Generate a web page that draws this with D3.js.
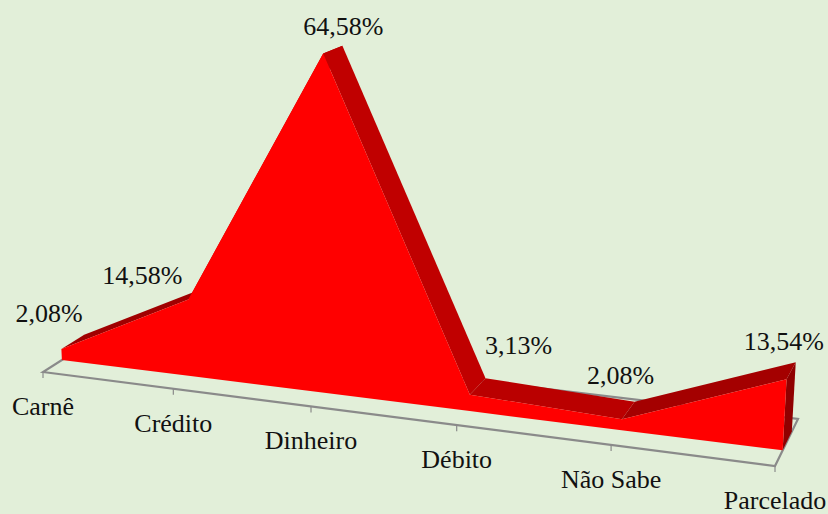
<!DOCTYPE html>
<html>
<head>
<meta charset="utf-8">
<style>
  html, body { margin: 0; padding: 0; background: #E2EFD9; }
  svg { display: block; }
  text { font-family: "Liberation Serif", serif; font-size: 26px; fill: #111; }
</style>
<script src="https://d3js.org/d3.v7.min.js"></script>
</head>
<body>
<div id="chart"></div>
<script>
// chart values
var categories = ["Carnê", "Crédito", "Dinheiro", "Débito", "Não Sabe", "Parcelado"];
var values = [2.08, 14.58, 64.58, 3.13, 2.08, 13.54];
var valueLabels = ["2,08%", "14,58%", "64,58%", "3,13%", "2,08%", "13,54%"];

// label placement, relative to the projected point
var valueNudge = [[-35, -13], [-67, -2], [1, -11], [33, -24], [-14, -18], [-12, -12]];

var svgWidth = 828;
var svgHeight = 514;

var svg = d3.select("#chart")
  .append("svg")
  .attr("width", svgWidth)
  .attr("height", svgHeight);

// scales: position along the floor and height above it
var xScale = d3.scalePoint().domain(categories).range([0, 1]);
var yScale = d3.scaleLinear().domain([0, 70]).range([0, 368]);

// floor corners on screen: front left, front right, back right, back left
var floor = [[43, 372], [775, 466], [798, 419], [100, 335.7]];
var frontDepth = 0.32;
var backDepth = 0.72;

// square to quad homography for the floor
var dx1 = floor[1][0] - floor[2][0], dx2 = floor[3][0] - floor[2][0];
var dy1 = floor[1][1] - floor[2][1], dy2 = floor[3][1] - floor[2][1];
var sx = floor[0][0] - floor[1][0] + floor[2][0] - floor[3][0];
var sy = floor[0][1] - floor[1][1] + floor[2][1] - floor[3][1];
var den = dx1 * dy2 - dx2 * dy1;
var g = (sx * dy2 - dx2 * sy) / den;
var h = (dx1 * sy - sx * dy1) / den;

function floorPoint(u, z) {
  var w = g * u + h * z + 1;
  return [
    ((floor[1][0] - floor[0][0] + g * floor[1][0]) * u + (floor[3][0] - floor[0][0] + h * floor[3][0]) * z + floor[0][0]) / w,
    ((floor[1][1] - floor[0][1] + g * floor[1][1]) * u + (floor[3][1] - floor[0][1] + h * floor[3][1]) * z + floor[0][1]) / w
  ];
}

// floor point lifted by a value, verticals lean away from x = 390
function project(cat, z, v) {
  var p = floorPoint(xScale(cat), z);
  var lift = yScale(v) * (1 - 0.06 * (z - frontDepth));
  return [p[0] + (p[0] - 390) * 0.00014 * lift, p[1] - lift];
}

var line = d3.line();
var axisColor = "#8a8a8a";

// floor outline
var floorGroup = svg.append("g")
  .attr("fill", "none")
  .attr("stroke", axisColor)
  .attr("stroke-width", 2.2);
floorGroup.append("path")
  .attr("d", line(floor) + "Z");

// tick marks on the front edge
floorGroup.selectAll("line")
  .data(categories)
  .enter()
  .append("line")
  .attr("stroke-width", 1.2)
  .attr("x1", d => floorPoint(xScale(d), 0)[0])
  .attr("x2", d => floorPoint(xScale(d), 0)[0])
  .attr("y1", d => floorPoint(xScale(d), 0)[1])
  .attr("y2", d => floorPoint(xScale(d), 0)[1] + 6);

// top facets of the ribbon, shaded per segment
var facetColors = ["#a00000", "#c00000", "#c00000", "#ba0000", "#a40000"];
var segments = d3.pairs(d3.range(categories.length));
svg.append("g")
  .selectAll("path")
  .data(segments)
  .enter()
  .append("path")
  .attr("fill", (d, i) => facetColors[i])
  .attr("d", function(d) {
    var a = d[0], b = d[1];
    return line([
      project(categories[a], frontDepth, values[a]),
      project(categories[b], frontDepth, values[b]),
      project(categories[b], backDepth, values[b]),
      project(categories[a], backDepth, values[a])
    ]) + "Z";
  });

// right end wall
var last = categories.length - 1;
svg.append("path")
  .attr("fill", "#900000")
  .attr("d", line([
    project(categories[last], frontDepth, values[last]),
    project(categories[last], backDepth, values[last]),
    project(categories[last], backDepth, 0),
    project(categories[last], frontDepth, 0)
  ]) + "Z");

// front face of the area
var frontTop = categories.map((c, i) => project(c, frontDepth, values[i]));
var frontBase = categories.map(c => project(c, frontDepth, 0)).reverse();
svg.append("path")
  .attr("fill", "#ff0000")
  .attr("d", line(frontTop.concat(frontBase)) + "Z");

// data labels
svg.append("g")
  .attr("text-anchor", "middle")
  .selectAll("text")
  .data(valueLabels)
  .enter()
  .append("text")
  .attr("x", (d, i) => project(categories[i], backDepth, values[i])[0] + valueNudge[i][0])
  .attr("y", (d, i) => project(categories[i], backDepth, values[i])[1] + valueNudge[i][1])
  .text(d => d);

// category labels
svg.append("g")
  .attr("text-anchor", "middle")
  .selectAll("text")
  .data(categories)
  .enter()
  .append("text")
  .attr("x", d => floorPoint(xScale(d), 0)[0])
  .attr("y", d => floorPoint(xScale(d), 0)[1] + 43)
  .text(d => d);
</script>
</body>
</html>
